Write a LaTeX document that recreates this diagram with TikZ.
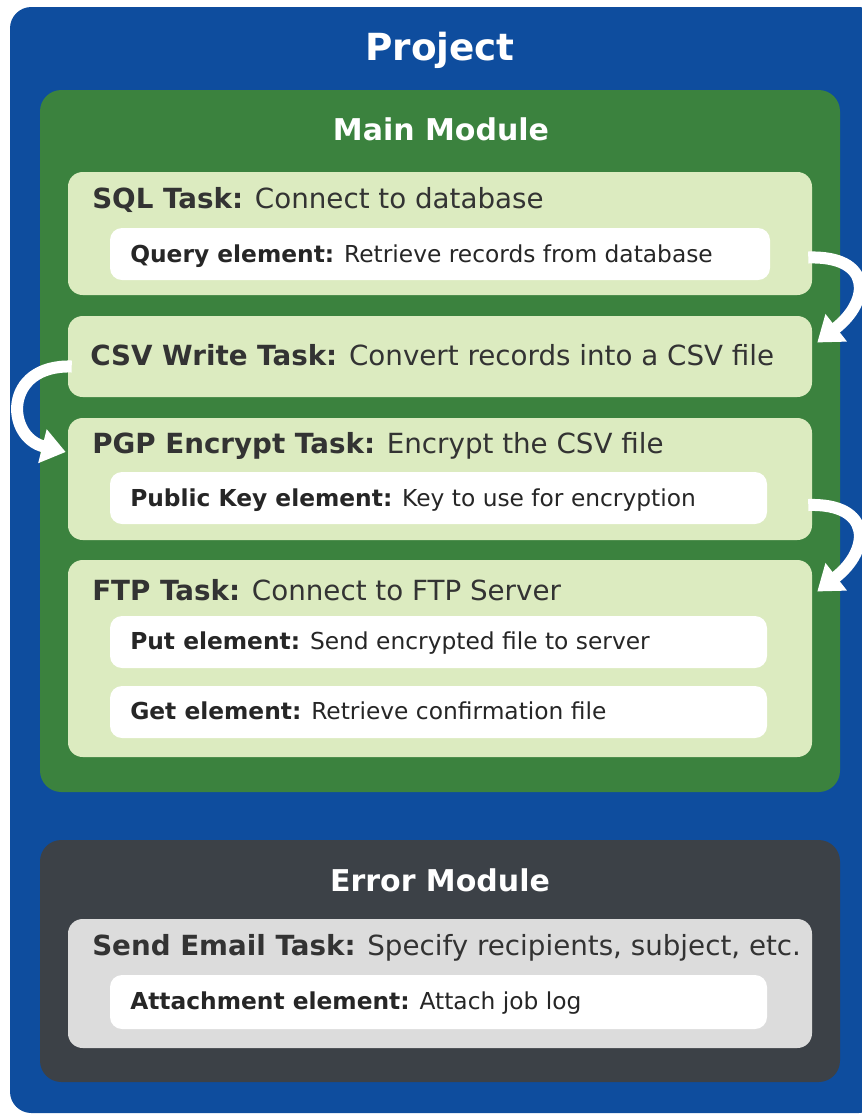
\documentclass[tikz,border=0pt]{standalone}
\usepackage{fontspec}
\setmainfont{DejaVu Sans}
\usetikzlibrary{arrows.meta,positioning,fit,calc}
\definecolor{projblue}{HTML}{0E4D9E}
\definecolor{maingreen}{HTML}{3B823E}
\definecolor{taskgreen}{HTML}{DCEBC0}
\definecolor{errgray}{HTML}{3C4147}
\definecolor{taskgray}{HTML}{DCDCDC}
\definecolor{ink}{HTML}{333333}

\begin{document}
\begin{tikzpicture}[x=0.75pt, y=-0.75pt,
    panel/.style={inner sep=0pt, rounded corners=16pt},
    taskbox/.style={panel, fill=taskgreen, rounded corners=11pt},
    elbox/.style={panel, fill=white, rounded corners=9pt},
    title/.style={font=\fontsize{28}{34}\selectfont\bfseries, text=white, anchor=base, inner sep=0pt},
    subtitle/.style={title, font=\fontsize{22.5}{27}\selectfont\bfseries},
    tasktext/.style={font=\fontsize{20.8}{25}\selectfont, text=ink, anchor=base west, inner sep=0pt},
    eltext/.style={font=\fontsize{17.5}{22}\selectfont, text=black!85, anchor=base west, inner sep=0pt},
    flowarrow/.style={draw=white, line width=9pt, -{Triangle[length=18pt, width=25pt]}}]
    \path[use as bounding box, clip] (0,0) rectangle (862,1115);

    % outer project and the two modules
    \node[panel, fill=projblue, fit={(10,7) (880,1113)}] (proj) {};
    \node[panel, fill=maingreen, fit={(40,90) (840,792)}] (main) {};
    \node[panel, fill=errgray, fit={(40,840) (840,1082)}] (errmod) {};
    \node[title] (projtitle) at (440,60) {Project};
    \node[subtitle] (maintitle) at (441,140) {Main Module};
    \node[subtitle] (errtitle) at (440,891) {Error Module};

    % tasks of the main module
    \node[taskbox, fit={(68,172) (812,295)}] (sql) {};
    \node[taskbox, fit={(68,316) (812,397)}] (csv) {};
    \node[taskbox, fit={(68,418) (812,540)}] (pgp) {};
    \node[taskbox, fit={(68,560) (812,757)}] (ftp) {};
    \node[taskbox, fill=taskgray, fit={(68,919) (812,1048)}] (email) {};

    % elements inside the tasks
    \node[elbox, fit={(110,228) (770,280)}] (query) {};
    \node[elbox, fit={(110,472) (767,524)}] (pubkey) {};
    \node[elbox, fit={(110,616) (767,668)}] (put) {};
    \node[elbox, fit={(110,686) (767,738)}] (get) {};
    \node[elbox, fit={(110,975) (767,1029)}] (attach) {};

    \node[tasktext] (sqltext) at (92,208) {\textbf{SQL Task:} Connect to database};
    \node[tasktext] (csvtext) at (90,365) {\textbf{CSV Write Task:} Convert records into a CSV file};
    \node[tasktext] (pgptext) at (92,453) {\textbf{PGP Encrypt Task:} Encrypt the CSV file};
    \node[tasktext] (ftptext) at (92,600) {\textbf{FTP Task:} Connect to FTP Server};
    \node[tasktext] (emailtext) at (92,955) {\textbf{Send Email Task:} Specify recipients, subject, etc.};

    \node[eltext] (querytext) at (130,262) {\textbf{Query element:} Retrieve records from database};
    \node[eltext] (pubkeytext) at (130,506) {\textbf{Public Key element:} Key to use for encryption};
    \node[eltext] (puttext) at (130,649) {\textbf{Put element:} Send encrypted file to server};
    \node[eltext] (gettext) at (130,719) {\textbf{Get element:} Retrieve confirmation file};
    \node[eltext] (attachtext) at (130,1009) {\textbf{Attachment element:} Attach job log};

    % flow between tasks
    \coordinate (sqlout) at ($(sql.east)+(-4,24)$);
    \coordinate (csvin) at ($(csv.east)+(5,-14)$);
    \coordinate (csvout) at ($(csv.west)+(4,10)$);
    \coordinate (pgpin) at ($(pgp.west)+(-2,-27)$);
    \coordinate (pgpout) at ($(pgp.east)+(-4,26)$);
    \coordinate (ftpin) at ($(ftp.east)+(5,-67)$);
    \draw[flowarrow] (sqlout) .. controls +(64,-2) and +(54,-42) .. (csvin);
    \draw[flowarrow] (csvout) .. controls +(-69,-2) and +(-60,-15) .. (pgpin);
    \draw[flowarrow] (pgpout) .. controls +(64,-2) and +(54,-42) .. (ftpin);
\end{tikzpicture}
\end{document}
